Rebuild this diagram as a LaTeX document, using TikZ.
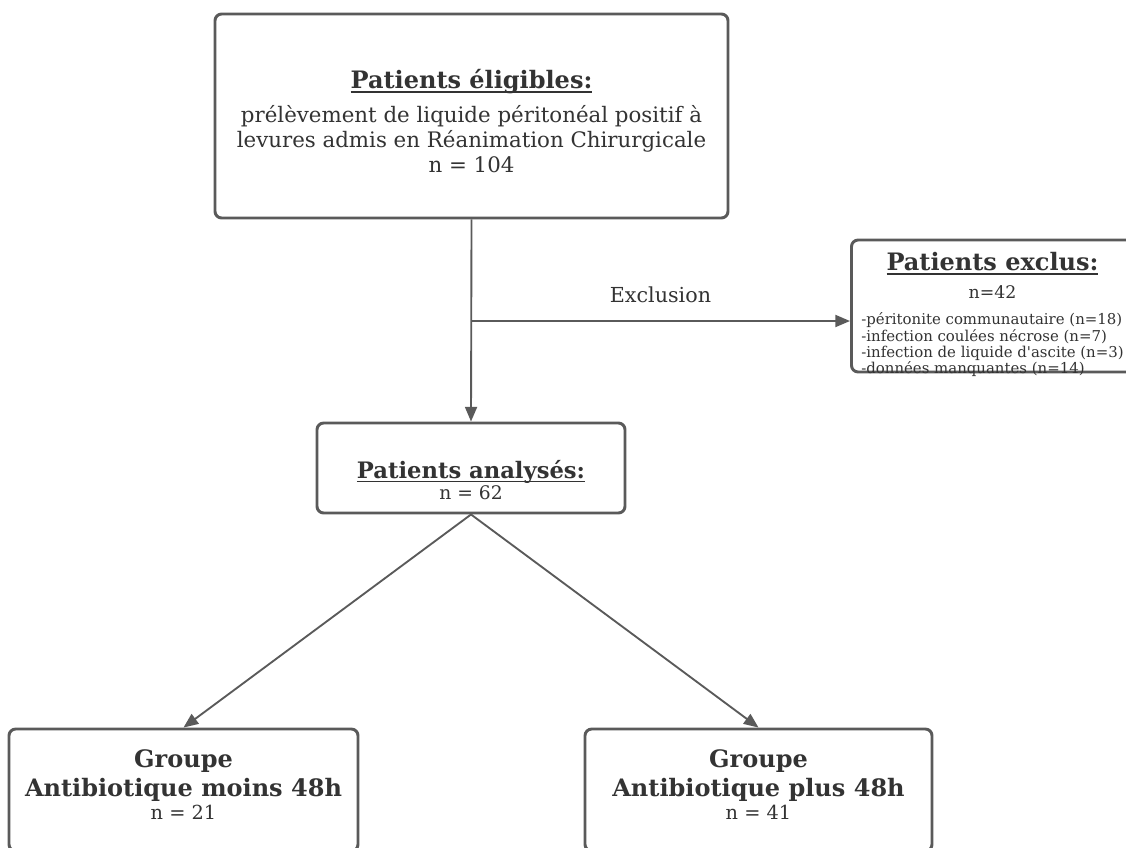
\documentclass[tikz,border=0pt]{standalone}
\usepackage{fontspec}
\setmainfont{DejaVu Serif}
\usetikzlibrary{arrows.meta}

\definecolor{cadre}{HTML}{5A5A5A}
\definecolor{texte}{HTML}{333333}
\newcommand{\titre}[2][18]{{\fontsize{#1}{21}\selectfont\bfseries
  \setbox0\hbox{#2}\rlap{\rule[-3pt]{\wd0}{1.1pt}}\box0}}
\newcommand{\groupe}[1]{{\fontsize{18}{21}\selectfont\bfseries #1}}

\tikzset{
  boite/.style={draw=cadre, line width=2.2pt, rounded corners=5pt, fill=white,
    text=texte, align=center, inner sep=0pt},
  fleche/.style={draw=cadre, line width=1.4pt, -{Triangle[length=11pt,width=9pt]}}
}

\begin{document}
\begin{tikzpicture}[x=0.75pt,y=0.75pt,yscale=-1]
        \useasboundingbox (0,0) rectangle (1126,847);
        \clip (0,0) rectangle (1126,847);

        %Shape: Rectangle [id:eligibles]
        \node [boite, minimum width=513*0.75pt, minimum height=204*0.75pt,
               font=\fontsize{16}{18.5}\selectfont] (elig) at (471.5,116)
          {\titre{Patients éligibles:}\\[7pt]
           prélèvement de liquide péritonéal positif à\\
           levures admis en Réanimation Chirurgicale\\ n = 104\\[-26pt]};
        %Shape: Rectangle [id:exclus]
        \node [boite, minimum width=282*0.75pt, minimum height=132*0.75pt, anchor=west,
               font=\fontsize{13}{16}\selectfont] (excl) at (850,306)
          {\titre{Patients exclus:}\\[5pt]
           n=42\\[3.5pt]
           {\fontsize{11.2}{11.6}\selectfont\begin{tabular}[t]{@{}l@{}}
             -péritonite communautaire (n=18)\\
             -infection coulées nécrose (n=7)\\
             -infection de liquide d\textquotesingle ascite (n=3)\\
             -données manquantes (n=14)
           \end{tabular}}\\[-15pt]};
        %Shape: Rectangle [id:analyses]
        \node [boite, minimum width=308*0.75pt, minimum height=90*0.75pt,
               font=\fontsize{14}{16}\selectfont] (anal) at (471,468)
          {\titre[17]{Patients analysés:}\\[0pt] n = 62\\[-33.5pt]};
        %Shape: Rectangle [id:moins48]
        \node [boite, minimum width=349*0.75pt, minimum height=122*0.75pt,
               font=\fontsize{14.5}{21.5}\selectfont] (moins) at (183.5,790)
          {\groupe{Groupe}\\ \groupe{Antibiotique moins 48h}\\[-4pt] n = 21\\[-14pt]};
        %Shape: Rectangle [id:plus48]
        \node [boite, minimum width=347*0.75pt, minimum height=122*0.75pt,
               font=\fontsize{14.5}{21.5}\selectfont] (plus) at (758.5,790)
          {\groupe{Groupe}\\ \groupe{Antibiotique plus 48h}\\[-4pt] n = 41\\[-14pt]};

        %Straight Lines
        \coordinate (branche) at (471,321);
        \draw [fleche] (elig.south) -- (anal.north);
        \draw [fleche] (branche) -- (branche -| excl.west)
          node [midway, above=10pt, text=texte, font=\fontsize{15.5}{18}\selectfont] (lblexcl) {Exclusion};
        \draw [fleche] (anal.south) -- (moins.north);
        \draw [fleche] (anal.south) -- (plus.north);
\end{tikzpicture}
\end{document}
